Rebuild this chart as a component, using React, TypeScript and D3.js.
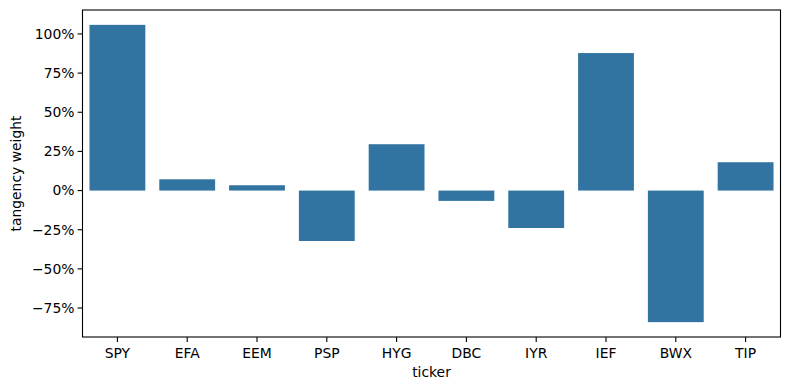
import React from 'react';
import * as d3 from 'd3';

const tickers = ['SPY', 'EFA', 'EEM', 'PSP', 'HYG', 'DBC', 'IYR', 'IEF', 'BWX', 'TIP'];
const weights = [1.058, 0.072, 0.034, -0.322, 0.296, -0.066, -0.239, 0.878, -0.84, 0.181];
const yTicks = [-0.75, -0.5, -0.25, 0, 0.25, 0.5, 0.75, 1.0];

const font = 'DejaVu Sans, sans-serif';
const barColor = '#3274a1';

export default function App() {
  // vars
  const width = 790;
  const height = 390;
  const left = 82.5;
  const right = 780.5;
  const top = 10;
  const bottom = 337;

  // scales
  const lo = d3.min(weights) as number;
  const hi = d3.max(weights) as number;
  const pad = (hi - lo) * 0.05;

  const xScale = d3.scaleBand<string>()
    .domain(tickers)
    .range([left, right])
    .paddingInner(0.2)
    .paddingOuter(0.1);

  const yScale = d3.scaleLinear()
    .domain([lo - pad, hi + pad])
    .range([bottom, top]);

  const fmt = (v: number) => `${Math.round(v * 100)}%`.replace('-', '\u2212');

  const bars = tickers.map((t, i) => {
    const v = weights[i];
    const y0 = yScale(0);
    const y1 = yScale(v);
    return (
      <rect
        key={t}
        x={xScale(t)}
        y={Math.min(y0, y1)}
        width={xScale.bandwidth()}
        height={Math.abs(y1 - y0)}
        fill={barColor}
      />
    );
  });

  return (
    <div style={{ position: 'absolute', left: 0, top: 0 }}>
      <svg width={width} height={height} style={{ display: 'block', background: '#fff' }}>
        {bars}
        {yTicks.map(t => (
          <g key={t} transform={`translate(0,${yScale(t)})`}>
            <line x1={left} x2={left - 4.9} stroke="#000" strokeWidth={1.1} />
            <text x={left - 8} dy="0.35em" textAnchor="end" fontFamily={font} fontSize={13.9}>
              {fmt(t)}
            </text>
          </g>
        ))}
        {tickers.map(t => {
          const cx = (xScale(t) as number) + xScale.bandwidth() / 2;
          return (
            <g key={t} transform={`translate(${cx},${bottom})`}>
              <line y1={0} y2={4.9} stroke="#000" strokeWidth={1.1} />
              <text y={20.5} textAnchor="middle" fontFamily={font} fontSize={13.9}>
                {t}
              </text>
            </g>
          );
        })}
        <rect
          x={left}
          y={top}
          width={right - left}
          height={bottom - top}
          fill="none"
          stroke="#000"
          strokeWidth={1.1}
        />
        <text x={(left + right) / 2} y={377} textAnchor="middle" fontFamily={font} fontSize={13.9}>
          ticker
        </text>
        <text
          transform={`translate(21,${(top + bottom) / 2}) rotate(-90)`}
          textAnchor="middle"
          fontFamily={font}
          fontSize={13.9}>
          tangency weight
        </text>
      </svg>
    </div>
  );
}
